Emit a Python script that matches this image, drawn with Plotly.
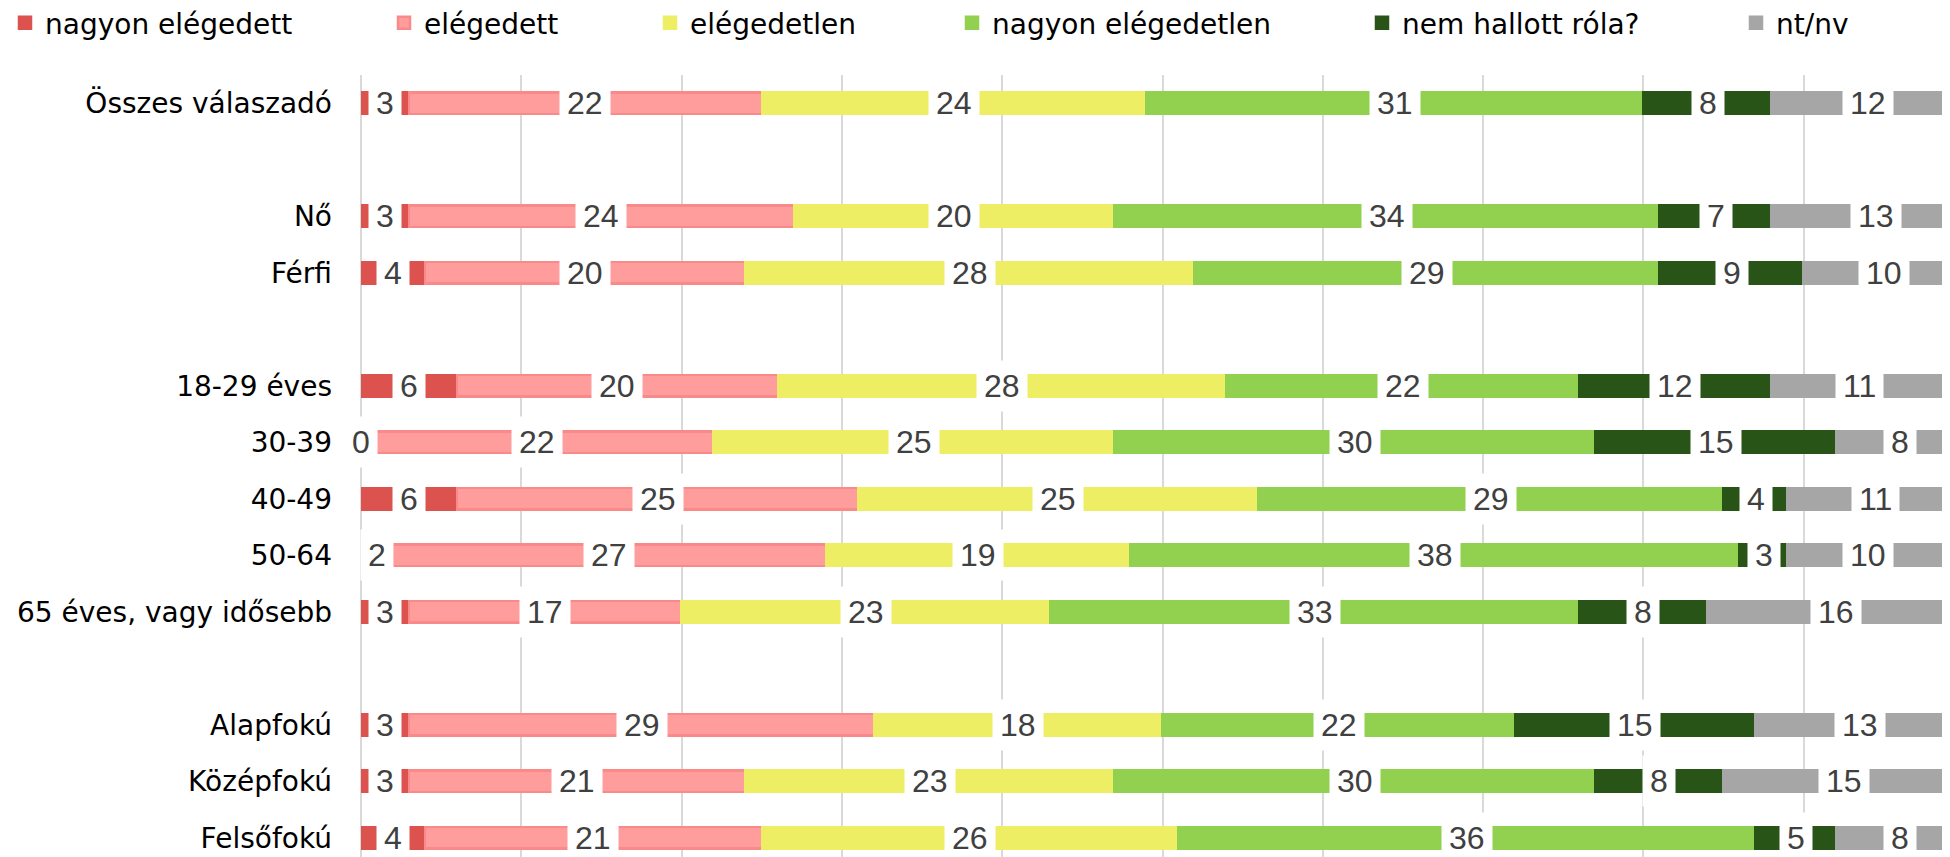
import plotly.graph_objects as go

# Data: share of answers (%) per group
categories = ["Összes válaszadó", "Nő", "Férfi", "18-29 éves", "30-39", "40-49",
              "50-64", "65 éves, vagy idősebb", "Alapfokú", "Középfokú", "Felsőfokú"]
group_sizes = [1, 2, 5, 3]  # one empty row between groups

series_names = ["nagyon elégedett", "elégedett", "elégedetlen",
                "nagyon elégedetlen", "nem hallott róla?", "nt/nv"]

nagyon_elegedett = [3, 3, 4, 6, 0, 6, 2, 3, 3, 3, 4]
elegedett = [22, 24, 20, 20, 22, 25, 27, 17, 29, 21, 21]
elegedetlen = [24, 20, 28, 28, 25, 25, 19, 23, 18, 23, 26]
nagyon_elegedetlen = [31, 34, 29, 22, 30, 29, 38, 33, 22, 30, 36]
nem_hallott = [8, 7, 9, 12, 15, 4, 3, 8, 15, 8, 5]
nt_nv = [12, 13, 10, 11, 8, 11, 10, 16, 13, 15, 8]

series_values = [nagyon_elegedett, elegedett, elegedetlen,
                 nagyon_elegedetlen, nem_hallott, nt_nv]
colors = ["#DC524E", "#FF9D9D", "#EEEE64", "#92D050", "#285517", "#A6A6A6"]
line_colors = ["#DC524E", "#FA8A8A", "#EEEE64", "#92D050", "#285517", "#A6A6A6"]

# row positions (empty slot between groups)
rows = []
slot = 0
for g in group_sizes:
    for _ in range(g):
        rows.append(slot)
        slot += 1
    slot += 1

# the page body has an 8px margin, so everything is shifted back by that
OFF = 8
W, H = 1950, 857
L, T = 361 - OFF, 75 - OFF
plot_w = W - L
plot_h = H - T
slot_px = 56.5

LABEL_FONT = "DejaVu Sans"
NUM_FONT = "Liberation Sans, Arial, sans-serif"

fig = go.Figure()
for i, (name, vals) in enumerate(zip(series_names, series_values)):
    lg = "legend" if i == 0 else f"legend{i + 1}"
    fig.add_trace(go.Bar(
        y=rows, x=vals, name=name, orientation="h",
        marker=dict(color=colors[i], line=dict(color=line_colors[i], width=2.5)),
        width=0.38, legend=lg,
    ))

# value labels with white boxes, centred on each segment
annotations = []
for r, row in enumerate(rows):
    cum = 0
    for vals in series_values:
        v = vals[r]
        annotations.append(dict(
            x=cum + v / 2, y=row, xref="x", yref="y", text=str(v), showarrow=False,
            bgcolor="white", borderpad=7,
            font=dict(family=NUM_FONT, size=32, color="#404040"),
        ))
        cum += v

# one legend per series so each entry sits where the reference has it
legend_text_px = [47, 426, 692, 994, 1404, 1778]
layout_legends = {}
for i, tx in enumerate(legend_text_px):
    key = "legend" if i == 0 else f"legend{i + 1}"
    layout_legends[key] = dict(
        x=(tx - OFF - 42 - L) / plot_w, xanchor="left",
        y=1 + (T - (23 - OFF)) / plot_h, yanchor="middle",
        orientation="h", bgcolor="rgba(0,0,0,0)",
        font=dict(family=LABEL_FONT, size=28, color="#000000"),
    )

fig.update_layout(
    width=W, height=H,
    barmode="stack",
    paper_bgcolor="white", plot_bgcolor="white",
    margin=dict(l=L, r=0, t=T, b=0, autoexpand=False),
    annotations=annotations,
    showlegend=True,
    xaxis=dict(range=[0, plot_w / 16.03], dtick=10, showticklabels=False,
               showgrid=True, gridcolor="#D9D9D9", gridwidth=1.5,
               zeroline=True, zerolinecolor="#D9D9D9", zerolinewidth=1.5,
               showline=False, fixedrange=True),
    yaxis=dict(tickmode="array", tickvals=rows, ticktext=categories,
               range=[-0.5 + plot_h / slot_px, -0.5],
               showgrid=False, zeroline=False, showline=False,
               ticklabelstandoff=28,
               tickfont=dict(family=LABEL_FONT, size=28, color="#000000")),
    **layout_legends,
)

fig.write_html("out.html")
